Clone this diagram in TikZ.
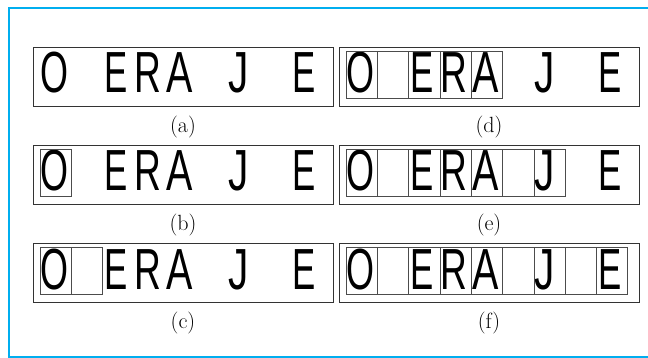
\documentclass[tikz,border=0pt]{standalone}
\usepackage{fontspec}
\usepackage{xcolor}
\usetikzlibrary{positioning}
\newfontfamily\glyphfont{Liberation Sans}
\definecolor{frameblue}{RGB}{0,174,239}

\begin{document}
\begin{tikzpicture}[x=1pt, y=-1pt,
  panelbox/.style={draw=black!80, line width=0.8pt, minimum width=300pt,
    minimum height=59pt, inner sep=0pt},
  cellbox/.style={draw=black!70, line width=0.6pt},
  glyph/.style={anchor=base, inner sep=0pt,
    font=\glyphfont\fontsize{58}{60}\selectfont},
  caption/.style={inner sep=0pt, font=\fontsize{22}{24}\selectfont},
  frame/.style={draw=frameblue, line width=1.5pt},
]
\useasboundingbox (0,0) rectangle (648,358);
\draw[frame] (648,8) -- (9,8) -- (9,357) -- (648,357);
% one panel per step: x, y, label, number of cells
\foreach \px/\py/\lab/\nc in {33/47/a/0, 33/145/b/1, 33/243/c/2,
                              339/47/d/5, 339/145/e/7, 339/243/f/9}{
  \node[panelbox] (box-\lab) at (\px+150,\py+29.5) {};
  \foreach \cx/\ch/\sx [count=\i] in {21/O/0.62, 83/E/0.6, 115/R/0.64,
                                      147/A/0.68, 206/J/0.7, 271/E/0.6}
    \node[glyph, xscale=\sx] (ltr-\lab-\i) at (\px+\cx,\py+46) {\ch};
  \ifnum\nc>0
    \foreach \k in {1,...,\nc}
      \draw[cellbox] (\px+7+\k*31.3-31.3,\py+4) rectangle ++(31.3,47);
  \fi
  \node[caption, below=9pt of box-\lab] (lab-\lab) {(\lab)};
}
\end{tikzpicture}
\end{document}
